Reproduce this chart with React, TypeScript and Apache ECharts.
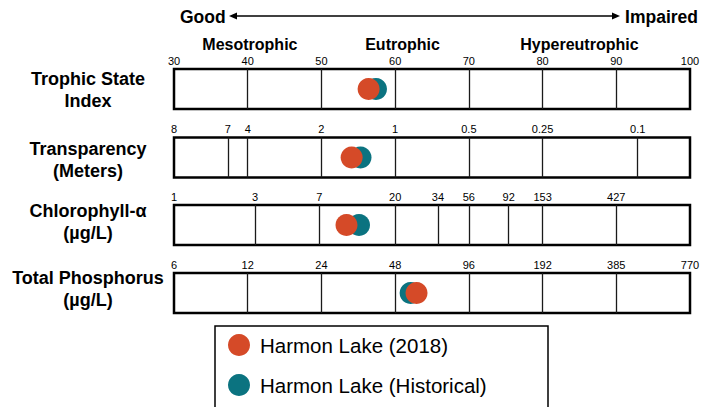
import React, { useEffect, useRef } from "react";
import * as echarts from "echarts";

const rowNames = ["Trophic State\nIndex", "Transparency\n(Meters)", "Chlorophyll-α\n(µg/L)", "Total Phosphorus\n(µg/L)"];
// tick label positions on the Trophic State Index scale, and their texts
const tsiTicks = [30, 40, 50, 60, 70, 80, 90, 100];
const tsiLabels = ["30", "40", "50", "60", "70", "80", "90", "100"];
const sdTicks = [30, 37.3, 40, 50, 60, 70, 80, 92.9];
const sdLabels = ["8", "7", "4", "2", "1", "0.5", "0.25", "0.1"];
const chlTicks = [30, 41, 49.7, 60, 65.8, 70, 75.4, 80, 90];
const chlLabels = ["1", "3", "7", "20", "34", "56", "92", "153", "427"];
const tpTicks = [30, 40, 50, 60, 70, 80, 90, 100];
const tpLabels = ["6", "12", "24", "48", "96", "192", "385", "770"];
// interior dividers of each box
const tsiDividers = [40, 50, 60, 70, 80, 90];
const sdDividers = [37.3, 40, 50, 60, 70, 80, 92.9];
const chlDividers = [41, 49.7, 60, 65.8, 70, 75.4, 80, 90];
const tpDividers = [40, 50, 60, 70, 80, 90];
// lake values on TSI scale: TSI, Transparency, Chlorophyll, Total Phosphorus
const lake2018 = [56.4, 54.1, 53.4, 62.9];
const lakeHistorical = [57.4, 55.3, 55.1, 62.1];
const classNames = ["Mesotrophic", "Eutrophic", "Hypereutrophic"];
const classCenters = [40.3, 61, 85];
const seriesNames = ["Harmon Lake (2018)", "Harmon Lake (Historical)"];

const FONT = "'Liberation Sans', Arial, Helvetica, sans-serif";
const ORANGE = "#D54A28";
const TEAL = "#0B7380";

export default function App() {
  const ref = useRef<HTMLDivElement>(null);
  useEffect(() => {
    document.body.style.margin = "0";
    if (!ref.current) return;
    const chart = echarts.init(ref.current, null, { renderer: "svg" });
    const ticks = [tsiTicks, sdTicks, chlTicks, tpTicks];
    const labels = [tsiLabels, sdLabels, chlLabels, tpLabels];
    const dividers = [tsiDividers, sdDividers, chlDividers, tpDividers];
    const tops = [69, 137.5, 205, 273];
    const boxH = 40;
    const left = 174;
    const width = 516;
    const xMin = 30;
    const xMax = 100;

    const grid = tops.map((t) => ({
      left,
      width,
      top: t,
      height: boxH,
      show: true,
      borderColor: "#000",
      borderWidth: 2.5,
      backgroundColor: "#fff",
      containLabel: false,
    }));
    const xAxis = tops.map((_, i) => ({
      type: "value",
      gridIndex: i,
      min: xMin,
      max: xMax,
      position: "top",
      axisLine: { show: false },
      axisTick: { show: false },
      splitLine: { show: false },
      axisLabel: {
        customValues: ticks[i],
        showMinLabel: true,
        showMaxLabel: true,
        hideOverlap: false,
        margin: 3,
        fontSize: 11,
        fontFamily: FONT,
        color: "#000",
        formatter: (v: number) => {
          const idx = ticks[i].findIndex((x) => Math.abs(x - v) < 1e-6);
          return idx >= 0 ? labels[i][idx] : "";
        },
      },
    }));
    const yAxis = tops.map((_, i) => ({
      type: "value",
      gridIndex: i,
      min: 0,
      max: 1,
      show: false,
    }));
    const series: any[] = [];
    tops.forEach((_, i) => {
      series.push({
        type: "line",
        xAxisIndex: i,
        yAxisIndex: i,
        data: [],
        z: 1,
        silent: true,
        markLine: {
          silent: true,
          symbol: ["none", "none"],
          label: { show: false },
          lineStyle: { color: "#1a1a1a", width: 1.3, type: "solid" },
          data: dividers[i].map((v) => ({ xAxis: v })),
        },
      });
    });
    tops.forEach((_, i) => {
      series.push({
        name: seriesNames[1],
        type: "scatter",
        xAxisIndex: i,
        yAxisIndex: i,
        symbol: "circle",
        symbolSize: 22,
        z: 5,
        itemStyle: { color: TEAL, opacity: 1 },
        data: [[lakeHistorical[i], 0.5]],
      });
    });
    tops.forEach((_, i) => {
      series.push({
        name: seriesNames[0],
        type: "scatter",
        xAxisIndex: i,
        yAxisIndex: i,
        symbol: "circle",
        symbolSize: 22,
        z: 6,
        itemStyle: { color: ORANGE, opacity: 1 },
        data: [[lake2018[i], 0.5]],
      });
    });

    const rowCenters = [89.5, 160, 221.5, 288.5];
    const graphic: any[] = [];
    rowNames.forEach((n, i) => {
      graphic.push({
        type: "text",
        x: 88,
        y: rowCenters[i],
        silent: true,
        style: {
          text: n,
          fontFamily: FONT,
          fontWeight: "bold",
          fontSize: 18,
          lineHeight: 22,
          align: "center",
          verticalAlign: "middle",
          fill: "#000",
        },
      });
    });
    const px = (v: number) => left + ((v - xMin) / (xMax - xMin)) * width;
    classNames.forEach((n, i) => {
      graphic.push({
        type: "text",
        x: px(classCenters[i]),
        y: 44,
        silent: true,
        style: {
          text: n,
          fontFamily: FONT,
          fontWeight: "bold",
          fontSize: 16,
          align: "center",
          verticalAlign: "middle",
          fill: "#000",
        },
      });
    });
    graphic.push(
      {
        type: "text",
        x: 180,
        y: 16.5,
        silent: true,
        style: { text: "Good", fontFamily: FONT, fontWeight: "bold", fontSize: 17.5, align: "left", verticalAlign: "middle", fill: "#000" },
      },
      {
        type: "text",
        x: 698,
        y: 16.5,
        silent: true,
        style: { text: "Impaired", fontFamily: FONT, fontWeight: "bold", fontSize: 17.5, align: "right", verticalAlign: "middle", fill: "#000" },
      },
      {
        type: "line",
        silent: true,
        shape: { x1: 235, y1: 16, x2: 614, y2: 16 },
        style: { stroke: "#000", lineWidth: 1.5 },
      },
      {
        type: "polygon",
        silent: true,
        shape: { points: [[229, 16], [237, 12.5], [237, 19.5]] },
        style: { fill: "#000" },
      },
      {
        type: "polygon",
        silent: true,
        shape: { points: [[620, 16], [612, 12.5], [612, 19.5]] },
        style: { fill: "#000" },
      },
      {
        type: "rect",
        silent: true,
        shape: { x: 215, y: 326, width: 333, height: 110 },
        style: { fill: "none", stroke: "#000", lineWidth: 1.5 },
      }
    );

    chart.setOption({
      animation: false,
      backgroundColor: "#fff",
      grid,
      xAxis,
      yAxis,
      series,
      legend: {
        data: seriesNames,
        orient: "vertical",
        left: 228,
        top: 334,
        padding: 0,
        itemWidth: 22,
        itemHeight: 22,
        itemGap: 18,
        icon: "circle",
        selectedMode: false,
        textStyle: { fontSize: 20.5, color: "#000", fontFamily: FONT, padding: [0, 0, 0, 5] },
      },
      graphic,
    });
    return () => chart.dispose();
  }, []);
  return <div ref={ref} style={{ width: 719, height: 407 }} />;
}
